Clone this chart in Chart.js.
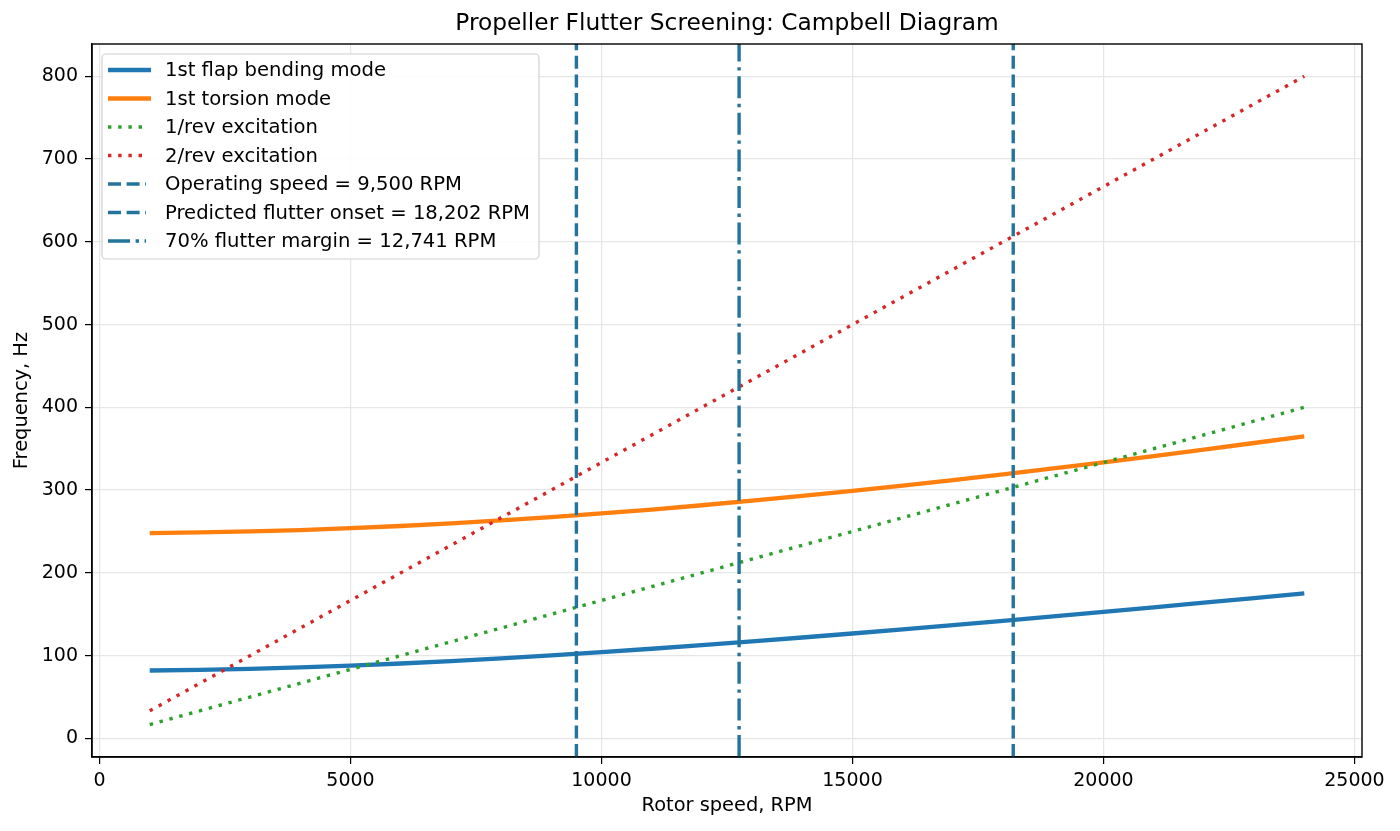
<!DOCTYPE html>
<html>
<head>
<meta charset="utf-8">
<title>Campbell Diagram</title>
<script src="https://cdn.jsdelivr.net/npm/chart.js@4.4.1/dist/chart.umd.min.js"></script>
<style>
  html, body { margin: 0; padding: 0; background: #fff; }
  #wrap { width: 1400px; height: 831px; }
</style>
</head>
<body>
<div id="wrap"><canvas id="Chart1" width="1400" height="831"></canvas></div>
<script>

// rotor speed samples, RPM
const rpm = [1000, 2000, 3000, 4000, 5000, 6000, 7000, 8000, 9000, 10000, 11000, 12000,
             13000, 14000, 15000, 16000, 17000, 18000, 19000, 20000, 21000, 22000, 23000, 24000];

// 1st flap bending mode, Hz
const flapHz = [82.0, 82.8, 84.0, 85.7, 87.9, 90.5, 93.4, 96.7, 100.3, 104.2, 108.3, 112.6,
                117.1, 121.9, 126.7, 131.7, 136.8, 142.1, 147.4, 152.8, 158.3, 163.9, 169.5, 175.2];

// 1st torsion mode, Hz
const torsionHz = [248.0, 248.8, 250.0, 251.7, 254.0, 256.6, 259.8, 263.4, 267.4, 271.8, 276.5, 281.7,
                   287.2, 293.0, 299.1, 305.5, 312.1, 319.0, 326.2, 333.6, 341.1, 348.9, 356.9, 365.0];

// excitation lines
const revRpm = [1000, 24000];
const oneRevHz = [16.7, 400];
const twoRevHz = [33.3, 800];

// vertical markers
const markerRpm = [9500, 18202, 12741];
const markerLabels = ['Operating speed = 9,500 RPM', 'Predicted flutter onset = 18,202 RPM', '70% flutter margin = 12,741 RPM'];

const xTicks = [0, 5000, 10000, 15000, 20000, 25000];
const yTicks = [0, 100, 200, 300, 400, 500, 600, 700, 800];

const xMin = -150, xMax = 25150;
const yMin = -22.5, yMax = 839;

const FONT = '"DejaVu Sans", Verdana, sans-serif';
const markerColor = '#24739c';

function pts(xs, ys) {
    return xs.map((x, i) => ({ x: x, y: ys[i] }));
}

function vline(x) {
    return [{ x: x, y: yMin }, { x: x, y: yMax }];
}

const datasets = [
    { label: '1st flap bending mode', data: pts(rpm, flapHz), borderColor: '#1f77b4', borderWidth: 4.3, order: 5 },
    { label: '1st torsion mode', data: pts(rpm, torsionHz), borderColor: '#ff7f0e', borderWidth: 4.3, order: 4 },
    { label: '1/rev excitation', data: pts(revRpm, oneRevHz), borderColor: '#2ca02c', borderWidth: 3.4, borderDash: [3.4, 6.8], order: 3 },
    { label: '2/rev excitation', data: pts(revRpm, twoRevHz), borderColor: '#d62728', borderWidth: 3.4, borderDash: [3.4, 6.8], order: 2 },
    { label: markerLabels[0], data: vline(markerRpm[0]), borderColor: markerColor, borderWidth: 3.4, borderDash: [13, 5.6], order: 1 },
    { label: markerLabels[1], data: vline(markerRpm[1]), borderColor: markerColor, borderWidth: 3.4, borderDash: [13, 5.6], order: 1 },
    { label: markerLabels[2], data: vline(markerRpm[2]), borderColor: markerColor, borderWidth: 3.4, borderDash: [22, 5.6, 3.4, 5.6], order: 1 }
];

datasets.forEach(d => {
    d.fill = false;
    d.pointRadius = 0;
    d.tension = 0;
    d.borderCapStyle = 'butt';
});

// frame, titles and the boxed legend, drawn like matplotlib
const decorations = {
    id: 'decorations',
    afterDraw(chart) {
        const ctx = chart.ctx;
        const a = chart.chartArea;
        ctx.save();

        // top and right spines
        ctx.strokeStyle = '#000';
        ctx.lineWidth = 1.4;
        ctx.strokeRect(a.left, a.top, a.right - a.left, a.bottom - a.top);

        // titles
        ctx.fillStyle = '#000';
        ctx.textAlign = 'center';
        ctx.textBaseline = 'middle';
        ctx.font = '23.3px ' + FONT;
        ctx.fillText('Propeller Flutter Screening: Campbell Diagram', (a.left + a.right) / 2, 24);
        ctx.font = '19.4px ' + FONT;
        ctx.fillText('Rotor speed, RPM', (a.left + a.right) / 2, 806);
        ctx.save();
        ctx.translate(22, (a.top + a.bottom) / 2);
        ctx.rotate(-Math.PI / 2);
        ctx.fillText('Frequency, Hz', 0, 0);
        ctx.restore();

        // legend
        const bx = 102, by = 54, bw = 437, bh = 205, r = 4;
        ctx.beginPath();
        ctx.moveTo(bx + r, by);
        ctx.arcTo(bx + bw, by, bx + bw, by + bh, r);
        ctx.arcTo(bx + bw, by + bh, bx, by + bh, r);
        ctx.arcTo(bx, by + bh, bx, by, r);
        ctx.arcTo(bx, by, bx + bw, by, r);
        ctx.closePath();
        ctx.fillStyle = 'rgba(255,255,255,0.85)';
        ctx.fill();
        ctx.strokeStyle = '#d0d0d0';
        ctx.lineWidth = 1.2;
        ctx.stroke();

        ctx.textAlign = 'left';
        ctx.font = '19.6px ' + FONT;
        datasets.forEach((d, i) => {
            const y = 70 + i * 28.5;
            const dashed = !!d.borderDash;
            ctx.beginPath();
            ctx.setLineDash(d.borderDash || []);
            ctx.strokeStyle = d.borderColor;
            ctx.lineWidth = d.borderWidth;
            ctx.moveTo(108, y);
            ctx.lineTo(dashed ? 146 : 151, y);
            ctx.stroke();
            ctx.setLineDash([]);
            ctx.fillStyle = '#000';
            ctx.fillText(d.label, 165, y + 1);
        });

        ctx.restore();
    }
};

const ctx = document.getElementById('Chart1');

new Chart(ctx, {
    type: 'line',
    data: { datasets: datasets },
    options: {
        responsive: false,
        animation: false,
        layout: { padding: { top: 44, right: 38, left: 0, bottom: 0 } },
        plugins: {
            legend: { display: false },
            title: { display: false },
            tooltip: { enabled: false }
        },
        scales: {
            x: {
                type: 'linear',
                min: xMin,
                max: xMax,
                afterBuildTicks: s => { s.ticks = xTicks.map(v => ({ value: v })); },
                afterFit: s => { s.height = 74; },
                grid: { color: '#e6e6e6', lineWidth: 1.2, tickColor: '#000', tickLength: 7, drawTicks: true },
                border: { color: '#000', width: 1.4 },
                ticks: {
                    color: '#000',
                    padding: 6,
                    maxRotation: 0,
                    font: { family: FONT, size: 19 },
                    callback: v => String(v)
                }
            },
            y: {
                type: 'linear',
                min: yMin,
                max: yMax,
                afterBuildTicks: s => { s.ticks = yTicks.map(v => ({ value: v })); },
                afterFit: s => { s.width = 92; },
                grid: { color: '#e6e6e6', lineWidth: 1.2, tickColor: '#000', tickLength: 7, drawTicks: true },
                border: { color: '#000', width: 1.4 },
                ticks: {
                    color: '#000',
                    padding: 7,
                    font: { family: FONT, size: 19 },
                    callback: v => String(v)
                }
            }
        }
    },
    plugins: [decorations]
});

</script>
</body>
</html>
